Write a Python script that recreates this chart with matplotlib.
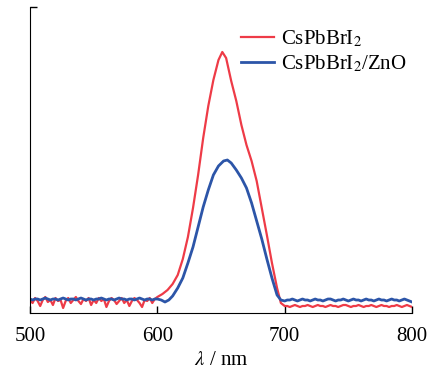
import numpy as np
import matplotlib.pyplot as plt

plt.rcParams['font.family'] = ['Liberation Serif', 'DejaVu Serif']
plt.rcParams['mathtext.fontset'] = 'stix'

# baseline 500-598 nm, 2 nm step
base_x = np.arange(500, 600, 2)
red_base = [13, 10, 15, 12, 7, 13, 16, 11, 13, 8, 15, 12, 13, 5, 12, 15, 10, 13, 16, 12,
            9, 14, 12, 15, 8, 13, 10, 15, 12, 14, 6, 12, 15, 13, 9, 12, 15, 10, 13, 7,
            12, 15, 13, 10, 6, 13, 12, 15, 10, 14]
blue_base = [14, 13, 14, 14, 13, 14, 15, 14, 13, 14, 14, 13, 14, 15, 14, 13, 14, 14, 13, 14,
             15, 14, 13, 14, 14, 13, 14, 14, 15, 14, 13, 14, 14, 13, 14, 15, 14, 14, 13, 14,
             14, 13, 14, 15, 14, 13, 14, 14, 13, 14]

# peak region
red_pk_x = [600, 604, 608, 612, 616, 620, 624, 628, 632, 636, 640, 644, 648, 651, 654, 658,
            662, 666, 670, 674, 678, 682, 686, 690, 694, 697, 700]
red_pk = [16, 19, 23, 29, 38, 54, 76, 105, 138, 175, 207, 233, 253, 261, 255, 232,
          212, 188, 168, 152, 132, 105, 78, 50, 25, 10, 7]
blue_pk_x = [600, 603, 606, 609, 612, 616, 620, 624, 628, 632, 636, 640, 644, 648, 652, 655,
             658, 662, 666, 670, 674, 678, 682, 686, 690, 694, 697, 700]
blue_pk = [14, 13, 11, 13, 17, 25, 35, 50, 66, 86, 106, 123, 138, 147, 152, 153,
           150, 143, 135, 125, 110, 92, 74, 54, 35, 18, 13, 12]

# tail 702-800 nm, 2 nm step
tail_x = np.arange(702, 802, 2)
red_tail = [7, 6, 7, 8, 7, 6, 7, 7, 8, 7, 6, 7, 8, 7, 7, 6, 7, 8, 7, 7,
            6, 7, 8, 8, 7, 6, 7, 7, 8, 7, 6, 7, 7, 8, 7, 6, 7, 8, 7, 7,
            6, 7, 7, 8, 7, 6, 7, 8, 7, 6]
blue_tail = [13, 13, 14, 13, 12, 13, 14, 13, 13, 12, 13, 14, 13, 13, 12, 13, 14, 14, 13, 12,
             13, 13, 14, 13, 12, 13, 14, 13, 13, 12, 13, 14, 13, 13, 12, 13, 14, 13, 13, 12,
             13, 14, 13, 13, 12, 13, 14, 13, 12, 11]

red_x = np.concatenate([base_x, red_pk_x, tail_x])
red_y = np.concatenate([red_base, red_pk, red_tail])
blue_x = np.concatenate([base_x, blue_pk_x, tail_x])
blue_y = np.concatenate([blue_base, blue_pk, blue_tail])

fig = plt.figure(figsize=(4.3, 3.72), dpi=100)
ax = fig.add_axes([0.0698, 0.1586, 0.8884, 0.8226])

ax.plot(red_x, red_y, color='#ee3b47', lw=1.6, label='CsPbBrI$_2$')
ax.plot(blue_x, blue_y, color='#2c55a8', lw=2.0, label='CsPbBrI$_2$/ZnO')

ax.set_xlim(500, 800)
ax.set_ylim(0, 306)
ax.set_xticks([500, 600, 700, 800])
ax.set_yticks([306])
ax.set_yticklabels([''])
ax.tick_params(direction='in', length=5, width=1, labelsize=15, pad=10)
ax.spines['top'].set_visible(False)
ax.spines['right'].set_visible(False)
ax.set_xlabel('$\\lambda$ / nm', fontsize=15, labelpad=4)

ax.legend(loc='upper right', bbox_to_anchor=(1.018, 0.97), frameon=False, fontsize=15,
          handlelength=1.6, handletextpad=0.3, labelspacing=0.2, borderaxespad=0.2)

fig.savefig('out.png', dpi=100)
